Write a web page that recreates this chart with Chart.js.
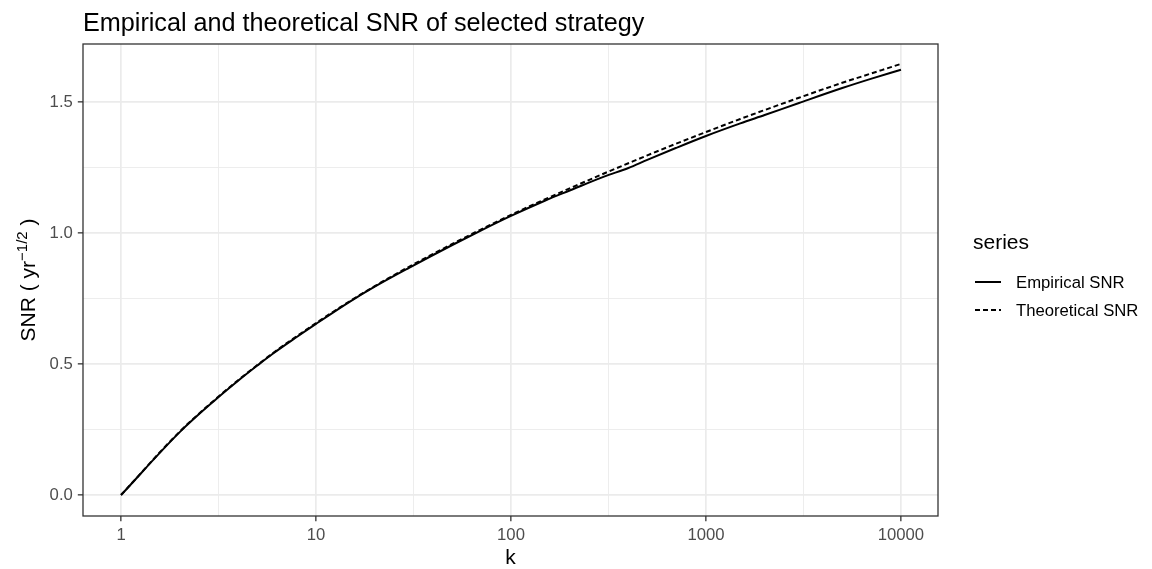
<!DOCTYPE html>
<html><head><meta charset="utf-8">
<script src="https://cdn.jsdelivr.net/npm/chart.js@4/dist/chart.umd.min.js"></script>
<style>html,body{margin:0;padding:0;background:#fff;overflow:hidden}#wrap{width:1152px;height:569px;position:relative}</style>
</head><body><div id="wrap"><canvas id="c" width="1152" height="569"></canvas></div>
<script>
const titleText = "Empirical and theoretical SNR of selected strategy";
const xTitle = "k";
const yTitleMain = "SNR ( yr";
const yTitleSup = "\u22121/2";
const yTitleEnd = " )";
const legendTitle = "series";
const seriesNames = ["Empirical SNR", "Theoretical SNR"];
const kValues = [1,2,3,4,5,6,8,10,15,20,30,50,70,100,150,200,300,400,500,700,1000,1500,2000,3000,5000,7000,10000];
const empiricalSNR = [0,0.240,0.359,0.437,0.494,0.539,0.604,0.653,0.739,0.795,0.867,0.954,1.009,1.065,1.124,1.162,1.215,1.248,1.279,1.324,1.370,1.418,1.450,1.496,1.553,1.588,1.623];
const theoreticalSNR = [0,0.242,0.361,0.439,0.496,0.541,0.607,0.656,0.741,0.797,0.871,0.958,1.013,1.069,1.129,1.170,1.227,1.266,1.296,1.340,1.385,1.435,1.469,1.516,1.573,1.608,1.645];
const xMajorTicks = [1,10,100,1000,10000];
const xTickLabels = ["1","10","100","1000","10000"];
const xMinorTicks = [3.1623,31.623,316.23,3162.3];
const yMajorTicks = [0,0.5,1.0,1.5];
const yTickLabels = ["0.0","0.5","1.0","1.5"];
const yMinorTicks = [0.25,0.75,1.25];

const FONT = "'Liberation Sans', Arial, Helvetica, sans-serif";
const isMajor = (list, v) => list.some(m => Math.abs(m - v) < 1e-6 * Math.max(1, m));

const decor = {
  id: 'decor',
  afterDatasetsDraw(chart) {
    const {ctx, chartArea: a} = chart;
    ctx.save();
    ctx.strokeStyle = '#333333';
    ctx.lineWidth = 1.3;
    ctx.setLineDash([]);
    ctx.strokeRect(a.left, a.top, a.right - a.left, a.bottom - a.top);
    ctx.restore();
  },
  afterDraw(chart) {
    const {ctx, chartArea: a} = chart;
    ctx.save();
    ctx.fillStyle = '#000';
    ctx.font = "25.2px " + FONT;
    ctx.textAlign = 'left'; ctx.textBaseline = 'alphabetic';
    ctx.fillText(titleText, a.left, 31);
    ctx.font = "21px " + FONT;
    ctx.textAlign = 'center';
    ctx.fillText(xTitle, (a.left + a.right) / 2, 564);
    ctx.save();
    ctx.translate(35, (a.top + a.bottom) / 2);
    ctx.rotate(-Math.PI / 2);
    ctx.textAlign = 'left';
    ctx.font = "21px " + FONT;
    const w1 = ctx.measureText(yTitleMain).width;
    const w3 = ctx.measureText(yTitleEnd).width;
    ctx.font = "15px " + FONT;
    const w2 = ctx.measureText(yTitleSup).width;
    let x0 = -(w1 + w2 + w3) / 2;
    ctx.font = "21px " + FONT;
    ctx.fillText(yTitleMain, x0, 0);
    ctx.font = "15px " + FONT;
    ctx.fillText(yTitleSup, x0 + w1, -8);
    ctx.font = "21px " + FONT;
    ctx.fillText(yTitleEnd, x0 + w1 + w2, 0);
    ctx.restore();
    ctx.textAlign = 'left';
    ctx.font = "21px " + FONT;
    ctx.fillText(legendTitle, 973, 249);
    ctx.font = "16.7px " + FONT;
    ctx.textBaseline = 'middle';
    const ys = [282, 310];
    const dashes = [[], [5, 3]];
    for (let i = 0; i < 2; i++) {
      ctx.strokeStyle = '#000';
      ctx.lineWidth = 2;
      ctx.setLineDash(dashes[i]);
      ctx.beginPath();
      ctx.moveTo(975, ys[i]); ctx.lineTo(1001, ys[i]);
      ctx.stroke();
      ctx.fillText(seriesNames[i], 1016, ys[i] + 1);
    }
    ctx.restore();
  }
};

const gridCommon = (major) => ({
  color: '#EBEBEB',
  lineWidth: c => (c.tick && isMajor(major, c.tick.value)) ? 1.7 : 0.9,
  tickColor: c => (c.tick && isMajor(major, c.tick.value)) ? '#333333' : 'rgba(0,0,0,0)',
  tickWidth: 1.3,
  tickLength: 5.2,
  drawTicks: true,
  drawOnChartArea: true
});

new Chart(document.getElementById('c'), {
  type: 'line',
  data: {
    datasets: [
      { label: seriesNames[1], data: kValues.map((k, i) => ({x: k, y: theoreticalSNR[i]})),
        borderColor: '#000', borderWidth: 2, borderDash: [5, 3], pointRadius: 0, fill: false, cubicInterpolationMode: 'monotone' },
      { label: seriesNames[0], data: kValues.map((k, i) => ({x: k, y: empiricalSNR[i]})),
        borderColor: '#000', borderWidth: 2, pointRadius: 0, fill: false, cubicInterpolationMode: 'monotone' }
    ]
  },
  options: {
    responsive: false,
    animation: false,
    devicePixelRatio: 1,
    layout: { padding: { left: 0, right: 214, top: 44, bottom: 0 } },
    plugins: { legend: { display: false }, title: { display: false }, tooltip: { enabled: false } },
    scales: {
      x: {
        type: 'logarithmic',
        bounds: 'data',
        min: Math.pow(10, -0.195),
        max: Math.pow(10, 4.19),
        border: { display: false },
        grid: gridCommon(xMajorTicks),
        afterBuildTicks: s => { s.ticks = xMajorTicks.concat(xMinorTicks).sort((a, b) => a - b).map(v => ({value: v})); },
        afterFit: s => { s.height = 53; },
        ticks: {
          autoSkip: false, maxRotation: 0, padding: 4,
          color: '#4D4D4D', font: { size: 16.7, family: FONT },
          callback: v => { const i = xMajorTicks.findIndex(m => Math.abs(m - v) < 1e-6 * m); return i >= 0 ? xTickLabels[i] : ''; }
        }
      },
      y: {
        type: 'linear',
        bounds: 'data',
        min: -0.08,
        max: 1.721,
        border: { display: false },
        grid: gridCommon(yMajorTicks),
        afterBuildTicks: s => { s.ticks = yMajorTicks.concat(yMinorTicks).sort((a, b) => a - b).map(v => ({value: v})); },
        afterFit: s => { s.width = 83; },
        ticks: {
          autoSkip: false, padding: 5,
          color: '#4D4D4D', font: { size: 16.7, family: FONT },
          callback: v => { const i = yMajorTicks.findIndex(m => Math.abs(m - v) < 1e-6); return i >= 0 ? yTickLabels[i] : ''; }
        }
      }
    }
  },
  plugins: [decor]
});
</script>
</body></html>
